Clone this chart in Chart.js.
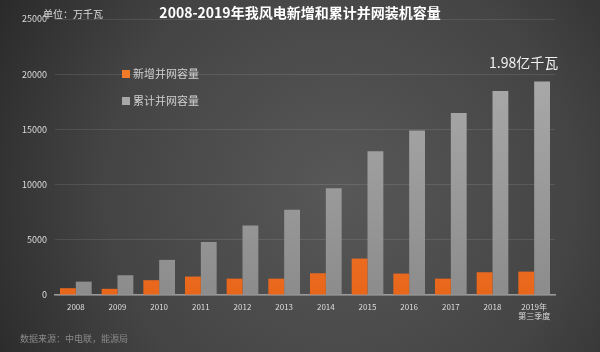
<!DOCTYPE html>
<html>
<head>
<meta charset="utf-8">
<script src="https://cdn.jsdelivr.net/npm/chart.js@4/dist/chart.umd.min.js"></script>
<style>
  html, body { margin: 0; padding: 0; background: #333; }
  #wrap { width: 600px; height: 352px; }
</style>
</head>
<body>
<div id="wrap"><canvas id="myChart" width="600" height="352"></canvas></div>
<script>
// data (万千瓦)
const years = ['2008', '2009', '2010', '2011', '2012', '2013', '2014', '2015', '2016', '2017', '2018', ['2019年', '第三季度']];
const newCapacity = [615, 560, 1340, 1670, 1480, 1480, 1970, 3300, 1940, 1480, 2060, 2120];
const totalCapacity = [1210, 1790, 3180, 4790, 6300, 7730, 9660, 13030, 14900, 16480, 18480, 19330];
const yTicks = [0, 5000, 10000, 15000, 20000, 25000];

const FONT = "'Noto Sans CJK SC', 'Open Sans', sans-serif";

function barGradient(ctx, top, bottom) {
    const chart = ctx.chart;
    const area = chart.chartArea;
    if (!area) return top;
    const g = chart.ctx.createLinearGradient(0, area.top, 0, area.bottom);
    g.addColorStop(0, top);
    g.addColorStop(1, bottom);
    return g;
}

const decorPlugin = {
    id: 'decor',
    beforeDraw(chart) {
        const c = chart.ctx;
        const w = chart.width, h = chart.height;
        const bg = c.createRadialGradient(340, 190, 10, 340, 190, 420);
        bg.addColorStop(0, '#575757');
        bg.addColorStop(0.55, '#444444');
        bg.addColorStop(1, '#252525');
        c.save();
        c.fillStyle = bg;
        c.fillRect(0, 0, w, h);
        c.restore();
    },
    afterDraw(chart) {
        const c = chart.ctx;
        c.save();
        // title
        c.fillStyle = '#ffffff';
        c.font = 'bold 14px ' + FONT;
        c.textAlign = 'center';
        c.textBaseline = 'middle';
        c.fillText('2008-2019年我风电新增和累计并网装机容量', 300, 13);
        // unit
        c.font = '10px ' + FONT;
        c.fillStyle = '#dddddd';
        c.textAlign = 'left';
        c.fillText('单位：万千瓦', 43, 14);
        // legend
        const ds = chart.data.datasets;
        const legendY = [74, 101];
        ds.forEach((d, i) => {
            c.fillStyle = d.legendColor;
            c.fillRect(122, legendY[i] - 4, 8, 8);
            c.fillStyle = '#d0d0d0';
            c.font = '11px ' + FONT;
            c.textAlign = 'left';
            c.fillText(d.label, 133, legendY[i]);
        });
        // annotation
        c.fillStyle = '#f0f0f0';
        c.font = '14px ' + FONT;
        c.textAlign = 'left';
        c.fillText('1.98亿千瓦', 489, 63);
        // source
        c.fillStyle = '#8a8a8a';
        c.font = '9px ' + FONT;
        c.fillText('数据来源：中电联，能源局', 20, 339);
        c.restore();
    }
};

const ctx = document.getElementById('myChart').getContext('2d');
window.myChart = new Chart(ctx, {
    type: 'bar',
    data: {
        labels: years,
        datasets: [{
            label: '新增并网容量',
            data: newCapacity,
            legendColor: '#f07a28',
            backgroundColor: c => barGradient(c, '#f7914f', '#e8661a'),
            borderWidth: 0
        }, {
            label: '累计并网容量',
            data: totalCapacity,
            legendColor: '#a8a8a8',
            backgroundColor: c => barGradient(c, '#b0b0b0', '#8c8c8c'),
            borderWidth: 0
        }]
    },
    options: {
        responsive: false,
        animation: false,
        layout: { padding: { top: 19, right: 45, bottom: 24, left: 0 } },
        datasets: {
            bar: { categoryPercentage: 0.76, barPercentage: 1.0 }
        },
        plugins: {
            legend: { display: false },
            title: { display: false },
            tooltip: { enabled: false }
        },
        scales: {
            x: {
                afterFit: scale => { scale.height = 33; },
                grid: { display: false, drawTicks: false },
                border: { display: true, color: '#9a9a9a', width: 1.5 },
                ticks: {
                    color: '#dddddd',
                    font: { family: FONT, size: 8 },
                    padding: 7,
                    maxRotation: 0
                }
            },
            y: {
                min: 0,
                max: 25000,
                afterFit: scale => { scale.width = 55; },
                afterBuildTicks: scale => { scale.ticks = yTicks.map(v => ({ value: v })); },
                grid: { color: 'rgba(255,255,255,0.1)', drawTicks: false },
                border: { display: false },
                ticks: {
                    color: '#dddddd',
                    font: { family: FONT, size: 9 },
                    padding: 8,
                    callback: v => String(v)
                }
            }
        }
    },
    plugins: [decorPlugin]
});
</script>
</body>
</html>
